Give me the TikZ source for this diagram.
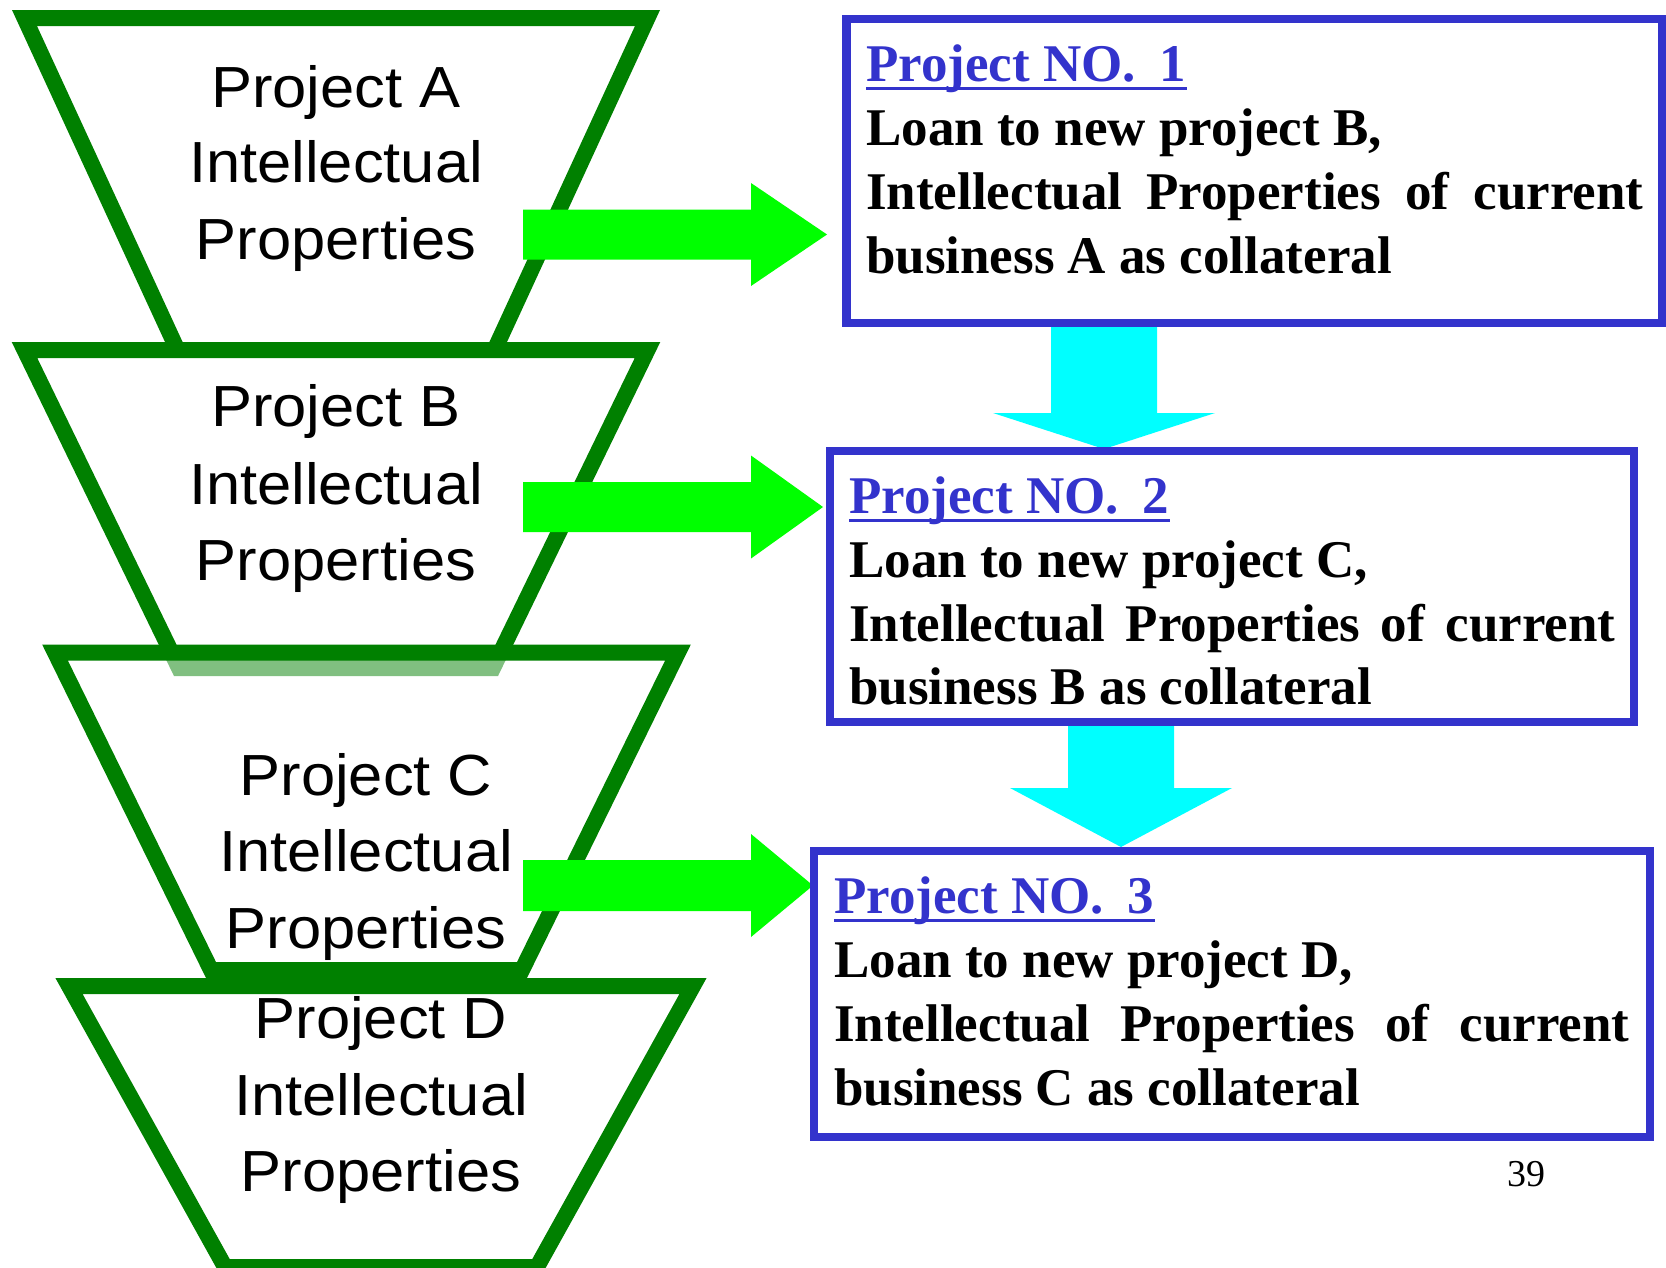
\documentclass[tikz,border=0pt]{standalone}
\usepackage{fontspec}
\setmainfont{Liberation Serif}
\newfontfamily\gothic[FakeStretch=1.06]{Liberation Sans}
\definecolor{trapgreen}{RGB}{0,128,0}
\definecolor{arrowgreen}{RGB}{0,255,0}
\definecolor{arrowcyan}{RGB}{0,255,255}
\definecolor{boxblue}{RGB}{51,51,204}
\tikzset{
  trap/.style={draw=trapgreen, line width=16pt, line join=miter, fill=white},
  trapfaded/.style={trap, fill opacity=0.5},
  traptext/.style={font=\gothic\fontsize{58pt}{76pt}\selectfont, inner sep=0pt, anchor=base},
  greenarrow/.style={fill=arrowgreen},
  cyanarrow/.style={fill=arrowcyan},
  loanbox/.style={draw=boxblue, line width=8.5pt, rectangle, inner sep=0pt},
  boxline/.style={font=\bfseries\fontsize{53pt}{63pt}\selectfont, inner sep=0pt, anchor=base west},
  boxtitle/.style={boxline, text=boxblue},
  titlerule/.style={draw=boxblue, line width=3pt}
}
\begin{document}
\begin{tikzpicture}[x=1pt, y=-1pt]
\useasboundingbox (0,0) rectangle (1666,1267);

% stacked project funnels
\draw[trap] (24.5,18) -- (647.5,18) -- (494.5,350) -- (177.5,350) -- cycle;
\draw[trap] (24.5,350) -- (647.5,350) -- (493,668) -- (179,668) -- cycle;
\draw[trapfaded] (55,652.5) -- (678,652.5) -- (522,970) -- (211,970) -- cycle;
\draw[trap] (69,986) -- (693,986) -- (537,1267) -- (225,1267) -- cycle;

\node[traptext] (pa1) at (336,107) {Project A};
\node[traptext] (pa2) at (336,182) {Intellectual};
\node[traptext] (pa3) at (336,259) {Properties};
\node[traptext] (pb1) at (336,426) {Project B};
\node[traptext] (pb2) at (336,504) {Intellectual};
\node[traptext] (pb3) at (336,580) {Properties};
\node[traptext] (pc1) at (366,795) {Project C};
\node[traptext] (pc2) at (366,871) {Intellectual};
\node[traptext] (pc3) at (366,948) {Properties};
\node[traptext] (pd1) at (381,1038) {Project D};
\node[traptext] (pd2) at (381,1115) {Intellectual};
\node[traptext] (pd3) at (381,1191) {Properties};

% block arrows from each funnel to its loan
\fill[greenarrow] (523,209.5) -- (751,209.5) -- (751,183) -- (827,234.5) -- (751,286) -- (751,259.5) -- (523,259.5) -- cycle;
\fill[greenarrow] (523,482) -- (751,482) -- (751,455.5) -- (823,507) -- (751,558.5) -- (751,532) -- (523,532) -- cycle;
\fill[greenarrow] (523,860) -- (751,860) -- (751,834) -- (813,885.5) -- (751,937) -- (751,911) -- (523,911) -- cycle;

% block arrows between the loans
\fill[cyanarrow] (1051,323) -- (1157,323) -- (1157,413) -- (1215,413) -- (1104,449) -- (993,413) -- (1051,413) -- cycle;
\fill[cyanarrow] (1068,722) -- (1174,722) -- (1174,788) -- (1232,788) -- (1121,847) -- (1010,788) -- (1068,788) -- cycle;

% loan boxes
\node[loanbox, minimum width=815.5pt, minimum height=304pt] (box1) at (1254.25,171) {};
\node[loanbox, minimum width=804pt, minimum height=271pt] (box2) at (1232,586.5) {};
\node[loanbox, minimum width=836pt, minimum height=286pt] (box3) at (1232,994) {};

\node[boxtitle] (n1) at (866,81) {Project NO.\hspace{0.45em}1};
\node[boxline] (n1a) at (866,145) {Loan to new project B,};
\node[boxline] (n1b) at (866,209) {\makebox[777pt][s]{Intellectual Properties of current}};
\node[boxline] (n1c) at (866,273) {business A as collateral};
\draw[titlerule] ([yshift=-7pt]n1.base west) -- ([yshift=-7pt]n1.base east);

\node[boxtitle] (n2) at (849,513) {Project NO.\hspace{0.45em}2};
\node[boxline] (n2a) at (849,577) {Loan to new project C,};
\node[boxline] (n2b) at (849,641) {\makebox[766pt][s]{Intellectual Properties of current}};
\node[boxline] (n2c) at (849,704) {business B as collateral};
\draw[titlerule] ([yshift=-7pt]n2.base west) -- ([yshift=-7pt]n2.base east);

\node[boxtitle] (n3) at (834,913) {Project NO.\hspace{0.45em}3};
\node[boxline] (n3a) at (834,977) {Loan to new project D,};
\node[boxline] (n3b) at (834,1041) {\makebox[795pt][s]{Intellectual Properties of current}};
\node[boxline] (n3c) at (834,1105) {business C as collateral};
\draw[titlerule] ([yshift=-7pt]n3.base west) -- ([yshift=-7pt]n3.base east);

% page number
\node[font=\fontsize{38pt}{40pt}\selectfont, inner sep=0pt, anchor=base east] (pg) at (1546,1186) {39};
\end{tikzpicture}
\end{document}
